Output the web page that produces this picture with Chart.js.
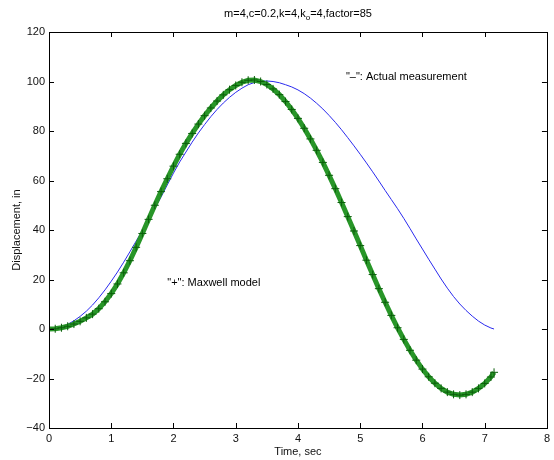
<!DOCTYPE html>
<html>
<head>
<meta charset="utf-8">
<script src="https://cdn.jsdelivr.net/npm/chart.js@4.4.0/dist/chart.umd.min.js"></script>
<style>
    html, body { margin: 0; padding: 0; background: #fff; }
    #wrap { width: 554px; height: 460px; }
</style>
</head>
<body>
<div id="wrap"><canvas id="myChart" width="554" height="460"></canvas></div>
<script>
// "-": actual measurement (blue line)
var timeActual = [0, 0.1, 0.2, 0.3, 0.4, 0.5, 0.6, 0.7, 0.8, 0.9, 1.0, 1.1, 1.2, 1.3, 1.4, 1.5, 1.6, 1.7, 1.8, 1.9,
    2.0, 2.1, 2.2, 2.3, 2.4, 2.5, 2.6, 2.7, 2.8, 2.9, 3.0, 3.1, 3.2, 3.3, 3.4, 3.5, 3.6, 3.7, 3.8, 3.9,
    4.0, 4.1, 4.2, 4.3, 4.4, 4.5, 4.6, 4.7, 4.8, 4.9, 5.0, 5.1, 5.2, 5.3, 5.4, 5.5, 5.6, 5.7, 5.8, 5.9,
    6.0, 6.1, 6.2, 6.3, 6.4, 6.5, 6.6, 6.7, 6.8, 6.9, 7.0, 7.1, 7.15];
var dispActual = [0, 0.2, 0.8, 1.9, 3.3, 5.1, 7.2, 9.7, 12.6, 15.8, 19.3, 23.0, 27.0, 31.2, 35.5, 39.8, 44.2, 48.7, 53.3, 58.2,
    63.0, 67.5, 71.5, 75.5, 79.2, 82.6, 85.8, 88.7, 91.3, 93.6, 95.6, 97.3, 98.7, 99.6, 100.1, 100.2, 100.0, 99.5, 98.7, 97.8,
    96.6, 95.1, 93.3, 91.2, 88.9, 86.3, 83.5, 80.5, 77.3, 74.0, 70.6, 67.1, 63.5, 59.8, 56.0, 52.3, 48.6, 44.7, 40.6, 36.4,
    32.3, 28.2, 24.2, 20.2, 16.5, 13.1, 10.1, 7.5, 5.2, 3.2, 1.6, 0.4, 0];

// "+": Maxwell model (green markers)
var timeModel = [0, 0.1, 0.2, 0.3, 0.4, 0.5, 0.6, 0.7, 0.8, 0.9, 1.0, 1.1, 1.2, 1.3, 1.4, 1.5, 1.6, 1.7, 1.8, 1.9,
    2.0, 2.1, 2.2, 2.3, 2.4, 2.5, 2.6, 2.7, 2.8, 2.9, 3.0, 3.1, 3.2, 3.3, 3.4, 3.5, 3.6, 3.7, 3.8, 3.9,
    4.0, 4.1, 4.2, 4.3, 4.4, 4.5, 4.6, 4.7, 4.8, 4.9, 5.0, 5.1, 5.2, 5.3, 5.4, 5.5, 5.6, 5.7, 5.8, 5.9,
    6.0, 6.1, 6.2, 6.3, 6.4, 6.5, 6.6, 6.7, 6.8, 6.9, 7.0, 7.1, 7.15];
var dispModel = [0, 0.1, 0.5, 1.1, 2.0, 3.1, 4.5, 6.0, 8.2, 11.0, 14.3, 18.2, 22.7, 27.6, 33.0, 38.6, 44.3, 50.0, 55.5, 60.7,
    65.8, 70.6, 75.0, 79.0, 82.8, 86.2, 89.3, 92.1, 94.6, 96.7, 98.4, 99.7, 100.5, 100.6, 100.0, 98.8, 97.0, 94.7, 91.9, 88.7,
    85.1, 81.1, 76.8, 72.2, 67.3, 62.1, 56.7, 51.1, 45.4, 39.6, 33.7, 27.8, 22.0, 16.3, 10.8, 5.5, 0.5, -4.2, -8.6, -12.6,
    -16.2, -19.3, -21.9, -24.0, -25.5, -26.4, -26.7, -26.4, -25.5, -24.0, -22.0, -19.4, -17.5];

var xTicks = [0, 1, 2, 3, 4, 5, 6, 7, 8];
var yTicks = [-40, -20, 0, 20, 40, 60, 80, 100, 120];

var FONT = '"Liberation Sans", Arial, sans-serif';

function toPoints(xs, ys) {
    var pts = [];
    for (var i = 0; i < xs.length; i++) {
        pts.push({ x: xs[i], y: ys[i] });
    }
    return pts;
}

// frame, inward ticks on all four sides, title and the two notes
var matlabAxes = {
    id: 'matlabAxes',
    afterDraw: function (chart) {
        var ctx = chart.ctx;
        var a = chart.chartArea;
        var xs = chart.scales.x, ys = chart.scales.y;
        ctx.save();
        ctx.strokeStyle = '#000';
        ctx.lineWidth = 1;
        ctx.strokeRect(Math.round(a.left) + 0.5, Math.round(a.top) + 0.5,
            Math.round(a.right - a.left), Math.round(a.bottom - a.top));
        ctx.beginPath();
        xTicks.forEach(function (v) {
            var px = Math.round(xs.getPixelForValue(v)) + 0.5;
            ctx.moveTo(px, a.bottom); ctx.lineTo(px, a.bottom - 5);
            ctx.moveTo(px, a.top); ctx.lineTo(px, a.top + 5);
        });
        yTicks.forEach(function (v) {
            var py = Math.round(ys.getPixelForValue(v)) + 0.5;
            ctx.moveTo(a.left, py); ctx.lineTo(a.left + 5, py);
            ctx.moveTo(a.right, py); ctx.lineTo(a.right - 5, py);
        });
        ctx.stroke();

        // title with subscript o
        ctx.fillStyle = '#000';
        ctx.textBaseline = 'middle';
        ctx.textAlign = 'left';
        var p1 = 'm=4,c=0.2,k=4,k', p2 = 'o', p3 = '=4,factor=85';
        ctx.font = '11px ' + FONT;
        var w1 = ctx.measureText(p1).width, w3 = ctx.measureText(p3).width;
        ctx.font = '8px ' + FONT;
        var w2 = ctx.measureText(p2).width;
        var tx = (a.left + a.right) / 2 - (w1 + w2 + w3) / 2;
        ctx.font = '11px ' + FONT;
        ctx.fillText(p1, tx, 14);
        ctx.font = '8px ' + FONT;
        ctx.fillText(p2, tx + w1, 18);
        ctx.font = '11px ' + FONT;
        ctx.fillText(p3, tx + w1 + w2, 14);

        // notes placed in data units
        ctx.fillText('"\u2013": Actual measurement', xs.getPixelForValue(4.77), ys.getPixelForValue(102));
        ctx.fillText('"+": Maxwell model', xs.getPixelForValue(1.9), ys.getPixelForValue(18.6));
        ctx.restore();
    }
};

var ctx = document.getElementById('myChart').getContext('2d');
var myChart = new Chart(ctx, {
    type: 'scatter',
    data: {
        datasets: [{
            label: 'Maxwell model',
            data: toPoints(timeModel, dispModel),
            showLine: true,
            borderColor: 'rgb(40, 150, 40)',
            borderWidth: 5,
            pointStyle: 'cross',
            pointRadius: 4,
            pointBorderWidth: 1,
            pointBorderColor: '#0b5e0b',
            pointBackgroundColor: '#0b5e0b',
            tension: 0
        }, {
            label: 'Actual measurement',
            data: toPoints(timeActual, dispActual),
            showLine: true,
            borderColor: '#2a2aee',
            borderWidth: 1,
            pointRadius: 0,
            tension: 0
        }]
    },
    options: {
        responsive: false,
        animation: false,
        devicePixelRatio: 1,
        layout: { padding: { top: 32, right: 3, left: 0, bottom: 0 } },
        plugins: {
            legend: { display: false },
            tooltip: { enabled: false }
        },
        scales: {
            x: {
                type: 'linear',
                min: 0, max: 8,
                afterFit: function (scale) { scale.height = 32; },
                afterBuildTicks: function (scale) {
                    scale.ticks = xTicks.map(function (v) { return { value: v }; });
                },
                grid: { display: false, drawTicks: false },
                border: { display: false },
                ticks: {
                    padding: 4,
                    color: '#111',
                    font: { family: FONT, size: 11 }
                },
                title: {
                    display: true,
                    text: 'Time, sec',
                    color: '#111',
                    padding: { top: 0, bottom: 1 },
                    font: { family: FONT, size: 11 }
                }
            },
            y: {
                type: 'linear',
                min: -40, max: 120,
                afterFit: function (scale) { scale.width = 49; },
                afterBuildTicks: function (scale) {
                    scale.ticks = yTicks.map(function (v) { return { value: v }; });
                },
                grid: { display: false, drawTicks: false },
                border: { display: false },
                ticks: {
                    padding: 4,
                    color: '#111',
                    font: { family: FONT, size: 11 },
                    callback: function (v) { return v < 0 ? '\u2212' + Math.abs(v) : String(v); }
                },
                title: {
                    display: true,
                    text: 'Displacement, in',
                    color: '#111',
                    padding: { top: 10, bottom: 0 },
                    font: { family: FONT, size: 11 }
                }
            }
        }
    },
    plugins: [matlabAxes]
});
</script>
</body>
</html>
